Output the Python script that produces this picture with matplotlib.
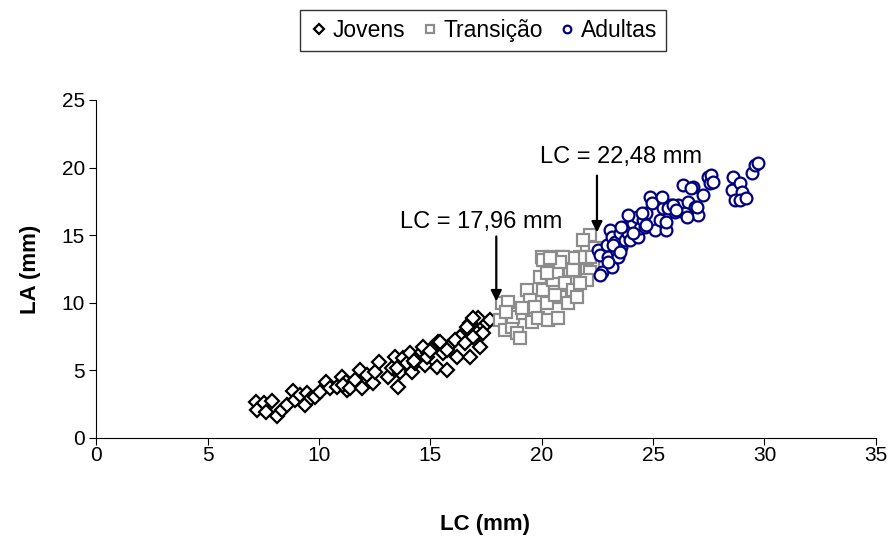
import matplotlib.pyplot as plt

plt.rcParams['font.family'] = ['Liberation Sans', 'DejaVu Sans']

# LC (x) and LA (y) in mm for each growth stage
jovens_lc = [7.18, 7.21, 7.54, 7.63, 7.88, 8.11, 8.33, 8.55, 8.85, 8.93, 9.15, 9.38, 9.45, 9.63,
             9.83, 10.05, 10.32, 10.50, 10.80, 11.02, 11.22, 11.25, 11.10, 11.40, 11.62, 11.84,
             11.92, 12.15, 12.44, 12.52, 12.71, 13.11, 13.27, 13.41, 13.56, 13.64, 13.79, 13.94,
             14.09, 14.16, 14.31, 14.46, 14.61, 14.76, 14.91, 15.10, 15.28, 15.36, 15.58, 15.73,
             15.81, 17.15, 16.78, 16.41, 15.43, 17.08, 17.53, 16.18, 16.78, 15.73, 14.84, 14.69,
             17.23, 16.93, 16.63, 16.33, 16.11, 16.93, 17.38, 17.68, 16.55, 13.49, 14.25, 15.00]
jovens_la = [2.69, 2.07, 2.61, 1.95, 2.74, 1.63, 2.07, 2.44, 3.50, 2.81, 3.18, 2.44, 3.30, 2.93,
             3.06, 3.43, 4.17, 3.67, 3.80, 4.54, 4.17, 3.55, 3.92, 3.67, 4.29, 5.03,
             3.67, 4.66, 4.05, 4.91, 5.65, 4.54, 5.16, 6.01, 3.80, 4.91, 5.89, 5.52,
             6.26, 4.91, 5.52, 6.01, 6.38, 5.40, 6.26, 6.75, 5.27, 7.12, 6.26, 5.03,
             6.75, 8.85, 8.48, 7.62, 7.12, 7.74, 8.48, 6.01, 6.01, 6.51, 6.01, 6.75,
             6.75, 8.85, 8.23, 7.49, 7.25, 7.49, 7.74, 8.73, 7.00, 5.20, 5.70, 6.40]

transicao_lc = [18.20, 18.50, 18.13, 18.35, 18.65, 18.87, 19.02, 18.72, 19.17, 19.32, 19.47,
                19.55, 19.69, 19.84, 19.92, 20.00, 20.07, 20.22, 20.29, 20.44, 20.52, 20.67,
                20.74, 20.82, 20.89, 21.04, 21.19, 21.27, 21.41, 21.57, 21.71, 21.86, 22.01,
                22.16, 21.86, 22.31, 22.39, 22.01, 22.16, 21.71, 21.41, 20.97, 20.82, 22.16,
                22.01, 21.41, 20.07, 20.37, 20.22, 21.71, 19.10, 18.40, 20.60]
transicao_la = [9.96, 10.08, 8.73, 7.99, 8.23, 7.74, 7.37, 8.97, 9.22, 10.95, 10.21,
                8.60, 9.71, 8.85, 11.93, 13.41, 10.95, 9.96, 8.73, 13.41, 11.69, 12.30,
                8.85, 10.45, 13.41, 11.44, 9.96, 12.43, 10.95, 10.45, 11.93, 13.17, 14.15,
                15.01, 14.64, 12.80, 14.03, 12.43, 13.41, 13.41, 13.29, 13.41, 13.04, 12.30,
                11.69, 12.43, 13.17, 13.29, 12.18, 11.44, 9.60, 9.30, 10.60]

adultas_lc = [22.54, 22.61, 22.69, 22.91, 22.99, 23.06, 23.14, 23.14, 23.28, 23.36, 23.43,
              23.51, 23.58, 23.73, 23.81, 23.88, 23.96, 24.10, 24.26, 24.33, 24.41, 24.55,
              24.70, 22.61, 22.99, 23.21, 23.51, 23.58, 23.88, 24.10, 24.48, 24.63, 24.85,
              24.93, 25.08, 25.30, 25.45, 25.57, 25.60, 25.82, 25.98, 26.12, 26.42, 26.57,
              26.87, 26.35, 26.80, 27.25, 27.02, 26.50, 24.70, 25.38, 25.68, 25.90, 26.05,
              26.72, 26.95, 27.47, 27.55, 27.62, 27.69, 28.59, 28.52, 28.67, 28.89, 28.97,
              28.89, 29.19, 29.42, 29.56, 29.71]
adultas_la = [13.91, 13.54, 12.30, 14.28, 13.41, 15.38, 14.89, 12.67, 14.52, 13.78, 13.41,
              15.14, 14.15, 14.64, 15.63, 15.14, 14.64, 15.88, 16.37, 14.89, 15.51, 16.12,
              16.62, 12.06, 13.04, 14.28, 13.78, 15.63, 16.49, 15.14, 16.62, 15.63, 17.85,
              17.36, 15.38, 16.12, 16.99, 15.38, 16.00, 17.23, 16.74, 17.23, 16.62, 17.48,
              17.11, 18.71, 18.59, 17.97, 16.49, 16.37, 15.75, 17.85, 16.99, 17.23, 16.86,
              18.47, 17.11, 19.33, 18.84, 19.45, 18.96, 19.33, 18.34, 17.60, 18.84, 18.22,
              17.60, 17.73, 19.58, 20.19, 20.32]

corte_1 = 17.96
corte_2 = 22.48

fig = plt.figure(figsize=(8.91, 5.40), dpi=100)
ax = fig.add_axes([0.108, 0.189, 0.875, 0.626])

ax.plot(jovens_lc, jovens_la, linestyle='none', marker='D', markersize=7.5,
        markerfacecolor='white', markeredgecolor='black', markeredgewidth=1.6, label='Jovens')
ax.plot(transicao_lc, transicao_la, linestyle='none', marker='s', markersize=9,
        markerfacecolor='white', markeredgecolor='#8c8c8c', markeredgewidth=1.6, label='Transição')
ax.plot(adultas_lc, adultas_la, linestyle='none', marker='o', markersize=8.5,
        markerfacecolor='white', markeredgecolor='#000080', markeredgewidth=1.6, label='Adultas')

# vertical arrows marking the stage boundaries, labels placed above
seta = dict(arrowstyle='-|>', color='black', lw=1.6, mutation_scale=16, shrinkA=0, shrinkB=0)
ax.annotate('', xy=(corte_1, 10.1), xytext=(corte_1, 14.9), arrowprops=seta)
ax.annotate('', xy=(corte_2, 15.2), xytext=(corte_2, 19.4), arrowprops=seta)
ax.text(17.3, 16.0, 'LC = 17,96 mm', ha='center', va='center', fontsize=17)
ax.text(23.55, 20.8, 'LC = 22,48 mm', ha='center', va='center', fontsize=17)

ax.set_xlim(0, 35)
ax.set_ylim(0, 25)
ax.set_xticks(range(0, 36, 5))
ax.set_yticks(range(0, 26, 5))
ax.tick_params(labelsize=15, direction='out', length=5)
ax.tick_params(axis='x', pad=1)
ax.tick_params(axis='y', pad=3)
ax.spines['top'].set_visible(False)
ax.spines['right'].set_visible(False)

ax.set_xlabel('LC (mm)', fontsize=16, fontweight='bold')
ax.set_ylabel('LA (mm)', fontsize=16, fontweight='bold')
ax.xaxis.set_label_coords(0.499, -0.225)
ax.yaxis.set_label_coords(-0.071, 0.5)

leg = fig.legend(loc='upper center', bbox_to_anchor=(0.542, 0.99), ncol=3, fontsize=16.5,
                 frameon=True, fancybox=False, edgecolor='black', handletextpad=0.15,
                 columnspacing=0.6, borderpad=0.4, handlelength=0.9, markerscale=0.65,
                 borderaxespad=0.2)
leg.get_frame().set_linewidth(1.0)

fig.savefig('out.png', dpi=100)
